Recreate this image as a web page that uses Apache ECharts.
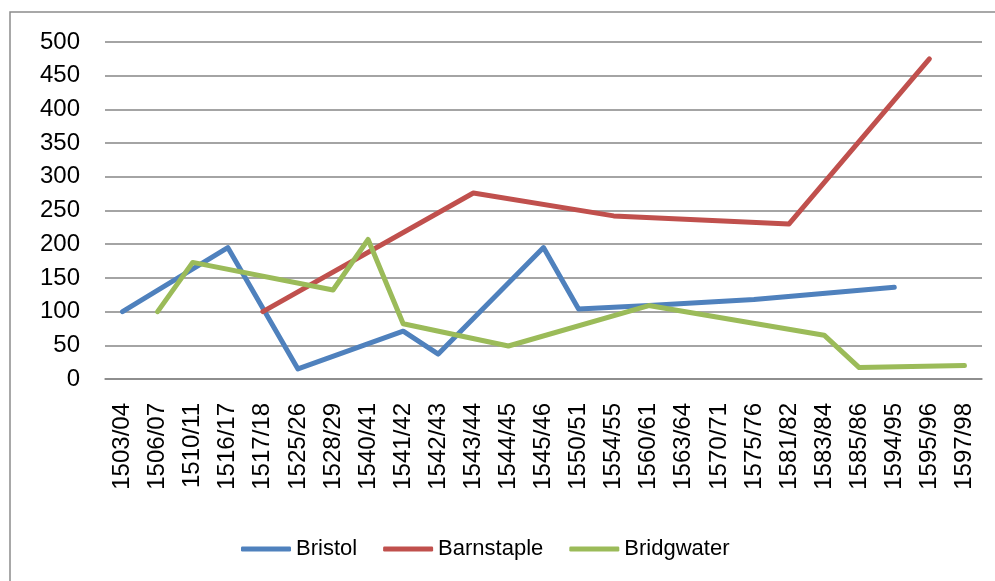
<!DOCTYPE html>
<html>
<head>
<meta charset="utf-8">
<script src="https://cdn.jsdelivr.net/npm/echarts@6/dist/echarts.min.js"></script>
<style>
    html, body { margin: 0; padding: 0; background: #fff; }
    #chart { width: 995px; height: 581px; }
</style>
</head>
<body>
<div id="chart"></div>
<script>
// categories (years)
var years = ['1503/04', '1506/07', '1510/11', '1516/17', '1517/18', '1525/26', '1528/29',
    '1540/41', '1541/42', '1542/43', '1543/44', '1544/45', '1545/46', '1550/51', '1554/55',
    '1560/61', '1563/64', '1570/71', '1575/76', '1581/82', '1583/84', '1585/86', '1594/95',
    '1595/96', '1597/98'];

// values, null = no value that year (line is joined across)
var bristol = [100, null, null, 195, null, 15, null, null, 71, 37, null, null, 195, 104, null,
    109, null, null, 118, null, null, null, 136, null, null];
var barnstaple = [null, null, null, null, 100, null, null, null, null, null, 276, null, null, null, 242,
    null, null, null, null, 230, null, null, null, 475, null];
var bridgwater = [null, 100, 173, null, null, null, 132, 207, 82, null, null, 49, null, null, null,
    109, null, null, null, null, 65, 17, null, null, 20];

var yTicks = { min: 0, max: 500, step: 50 };

var font = 'Liberation Sans';
var gridGrey = '#868686';

var myChart = echarts.init(document.getElementById('chart'));

function lineSeries(name, data, color) {
    return {
        name: name,
        type: 'line',
        data: data,
        connectNulls: true,
        showSymbol: false,
        symbol: 'none',
        lineStyle: { color: color, width: 5, cap: 'round', join: 'round' },
        itemStyle: { color: color }
    };
}

var option = {
    animation: false,
    textStyle: { fontFamily: font },
    // outer chart frame, runs off the right and bottom edges
    graphic: [{
        type: 'rect',
        shape: { x: 10, y: 12, width: 1000, height: 600 },
        style: { fill: 'none', stroke: '#8c8c8c', lineWidth: 1.5 },
        silent: true
    }],
    grid: {
        left: 105,
        right: 13,
        top: 42,
        bottom: 202
    },
    legend: {
        top: 538,
        left: 241,
        padding: 0,
        itemWidth: 50,
        itemHeight: 5,
        itemGap: 26,
        icon: 'roundRect',
        textStyle: { fontFamily: font, fontSize: 22, color: '#000' },
        data: ['Bristol', 'Barnstaple', 'Bridgwater']
    },
    xAxis: {
        type: 'category',
        data: years,
        boundaryGap: true,
        axisTick: { show: false },
        axisLine: { lineStyle: { color: gridGrey, width: 1.5 } },
        axisLabel: {
            rotate: 90,
            interval: 0,
            margin: 24,
            fontSize: 24,
            fontFamily: font,
            color: '#000'
        }
    },
    yAxis: {
        type: 'value',
        min: yTicks.min,
        max: yTicks.max,
        interval: yTicks.step,
        axisLine: { show: false },
        axisTick: { show: false },
        splitLine: { lineStyle: { color: gridGrey, width: 1.5 } },
        axisLabel: {
            margin: 25,
            fontSize: 24,
            fontFamily: font,
            color: '#000'
        }
    },
    series: [
        lineSeries('Bristol', bristol, '#4F81BD'),
        lineSeries('Barnstaple', barnstaple, '#C0504D'),
        lineSeries('Bridgwater', bridgwater, '#9BBB59')
    ]
};

myChart.setOption(option);
</script>
</body>
</html>
